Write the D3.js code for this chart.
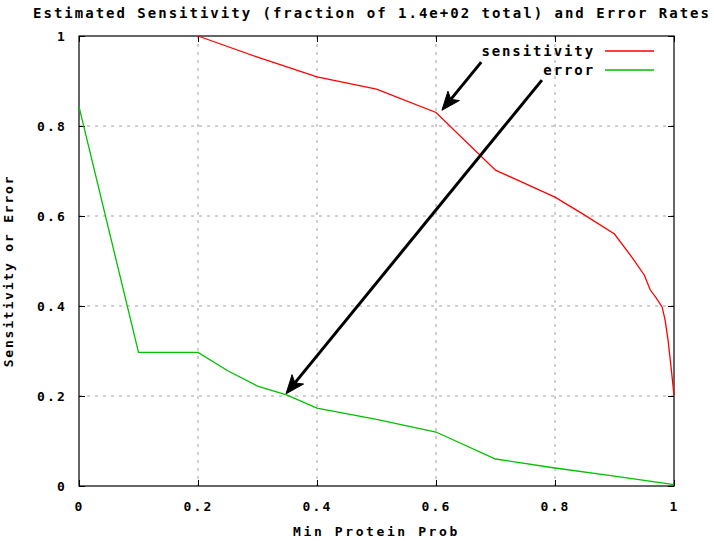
<html>
<head>
  <meta charset="utf-8">
  <title>Estimated Sensitivity and Error Rates</title>
  <style>
    body { margin: 0; background: #fff; }
    text { font-family: "DejaVu Sans Mono", monospace; font-weight: bold; fill: #000; }
  </style>
  <script src="https://d3js.org/d3.v7.min.js"></script>
</head>
<body>
  <div id="chart"></div>
  <script>
    // data
    var xSens = [0.2, 0.3, 0.4, 0.5, 0.6, 0.7, 0.8, 0.85, 0.9, 0.93, 0.95, 0.96, 0.97, 0.98, 0.985, 0.99, 0.995, 1.0];
    var sensitivity = [1.0, 0.953, 0.909, 0.882, 0.83, 0.702, 0.642, 0.602, 0.56, 0.507, 0.469, 0.436, 0.418, 0.398, 0.369, 0.324, 0.265, 0.202];
    var xErr = [0, 0.1, 0.2, 0.25, 0.3, 0.35, 0.4, 0.5, 0.6, 0.7, 0.8, 0.9, 1.0];
    var errorRate = [0.843, 0.297, 0.297, 0.256, 0.222, 0.202, 0.173, 0.148, 0.12, 0.06, 0.04, 0.022, 0.003];
    var tickValues = [0, 0.2, 0.4, 0.6, 0.8, 1];
    var gridValues = [0.2, 0.4, 0.6, 0.8];
    var seriesNames = ["sensitivity", "error"];
    var seriesColors = ["#ff0000", "#00c000"];
    // annotation arrows, in data units: [x0, y0, x1, y1]
    var arrowsData = [[0.676, 0.942, 0.61, 0.835], [0.778, 0.902, 0.348, 0.205]];

    var W = 714, H = 541;
    var margin = { top: 36, right: 40, bottom: 55, left: 79 };
    var width = W - margin.left - margin.right,   // 595
        height = H - margin.top - margin.bottom;  // 450

    var x = d3.scaleLinear().domain([0, 1]).range([0, width]);
    var y = d3.scaleLinear().domain([0, 1]).range([height, 0]);

    var svg = d3.select("#chart").append("svg")
        .attr("width", W).attr("height", H);

    // title
    svg.append("text")
        .attr("x", 372).attr("y", 18)
        .attr("text-anchor", "middle")
        .style("font-size", "14px")
        .style("letter-spacing", "2px")
        .text("Estimated Sensitivity (fraction of 1.4e+02 total) and Error Rates");

    var g = svg.append("g")
        .attr("transform", "translate(" + margin.left + "," + margin.top + ")");

    // grid
    g.selectAll(".hgrid").data(gridValues).enter().append("line")
        .attr("x1", 0).attr("x2", width)
        .attr("y1", function(d) { return y(d); }).attr("y2", function(d) { return y(d); })
        .attr("stroke", "#a0a0a0").attr("stroke-dasharray", "3,5");
    g.selectAll(".vgrid").data(gridValues).enter().append("line")
        .attr("y1", 0).attr("y2", height)
        .attr("x1", function(d) { return x(d); }).attr("x2", function(d) { return x(d); })
        .attr("stroke", "#a0a0a0").attr("stroke-dasharray", "3,5");

    // axes with inward ticks, mirrored
    function styleAxis(sel) {
      sel.select(".domain").remove();
      sel.selectAll("line").attr("stroke", "#000");
      sel.selectAll("text")
          .style("font-size", "13px")
          .style("letter-spacing", "2.2px")
          .style("font-family", "'DejaVu Sans Mono', monospace")
          .style("font-weight", "bold");
    }
    g.append("g").attr("transform", "translate(0," + height + ")")
        .call(d3.axisBottom(x).tickValues(tickValues).tickSizeInner(-6).tickSizeOuter(0)
              .tickPadding(16).tickFormat(d3.format("")))
        .call(styleAxis);
    g.append("g")
        .call(d3.axisLeft(y).tickValues(tickValues).tickSizeInner(-6).tickSizeOuter(0)
              .tickPadding(12).tickFormat(d3.format("")))
        .call(styleAxis);
    g.append("g")
        .call(d3.axisTop(x).tickValues(tickValues).tickSizeInner(-6).tickSizeOuter(0).tickFormat(""))
        .call(styleAxis);
    g.append("g").attr("transform", "translate(" + width + ",0)")
        .call(d3.axisRight(y).tickValues(tickValues).tickSizeInner(-6).tickSizeOuter(0).tickFormat(""))
        .call(styleAxis);

    // border
    g.append("rect")
        .attr("width", width).attr("height", height)
        .attr("fill", "none").attr("stroke", "#000").attr("stroke-width", 1.2);

    // series
    var line = d3.line()
        .x(function(d) { return x(d[0]); })
        .y(function(d) { return y(d[1]); });
    var series = [d3.zip(xSens, sensitivity), d3.zip(xErr, errorRate)];
    g.selectAll(".series").data(series).enter().append("path")
        .attr("d", line)
        .attr("fill", "none")
        .attr("stroke", function(d, i) { return seriesColors[i]; })
        .attr("stroke-width", 1.3);

    // key
    var key = g.selectAll(".key").data(seriesNames).enter().append("g")
        .attr("transform", function(d, i) { return "translate(0," + (15 + i * 19) + ")"; });
    key.append("text")
        .attr("x", 516).attr("dy", "0.35em")
        .attr("text-anchor", "end")
        .style("font-size", "14px")
        .style("letter-spacing", "1.9px")
        .text(function(d) { return d; });
    key.append("line")
        .attr("x1", 526).attr("x2", 575)
        .attr("stroke", function(d, i) { return seriesColors[i]; })
        .attr("stroke-width", 1.3);

    // arrows
    arrowsData.forEach(function(a) {
      var x0 = x(a[0]), y0 = y(a[1]), x1 = x(a[2]), y1 = y(a[3]);
      var ang = Math.atan2(y1 - y0, x1 - x0);
      var len = 20, spread = 0.38, back = 14;
      var lx = x1 - back * Math.cos(ang), ly = y1 - back * Math.sin(ang);
      g.append("line")
          .attr("x1", x0).attr("y1", y0).attr("x2", lx).attr("y2", ly)
          .attr("stroke", "#000").attr("stroke-width", 3);
      var p = [
        [x1, y1],
        [x1 - len * Math.cos(ang - spread), y1 - len * Math.sin(ang - spread)],
        [lx, ly],
        [x1 - len * Math.cos(ang + spread), y1 - len * Math.sin(ang + spread)]
      ];
      g.append("path")
          .attr("d", "M" + p.join("L") + "Z")
          .attr("fill", "#000").attr("stroke", "#000").attr("stroke-width", 1);
    });

    // axis labels
    svg.append("text")
        .attr("x", margin.left + width / 2).attr("y", 536)
        .attr("text-anchor", "middle")
        .style("font-size", "13px")
        .style("letter-spacing", "2.6px")
        .text("Min Protein Prob");
    svg.append("text")
        .attr("transform", "translate(13,271) rotate(-90)")
        .attr("text-anchor", "middle")
        .style("font-size", "13px")
        .style("letter-spacing", "1.8px")
        .text("Sensitivity or Error");
  </script>
</body>
</html>
